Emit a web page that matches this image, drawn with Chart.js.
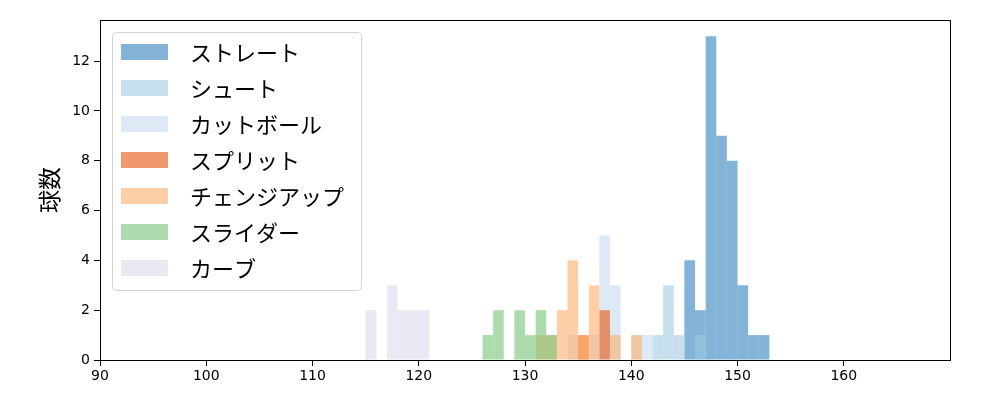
<!DOCTYPE html>
<html>
<head>
<meta charset="utf-8">
<script src="https://cdn.jsdelivr.net/npm/chart.js@4.4.1/dist/chart.umd.min.js"></script>
<style>
  body { margin: 0; background: #fff; }
  canvas { display: block; }
</style>
</head>
<body>
<canvas id="pitchChart" width="1000" height="400"></canvas>
<script>
// Pitch type names (legend order)
const pitchNames = ["ストレート", "シュート", "カットボール", "スプリット", "チェンジアップ", "スライダー", "カーブ"];

// Histogram bins (left edge, km/h) and counts per pitch type, 1 km/h wide
const straightBins = [145, 146, 147, 148, 149, 150, 151, 152];
const straightCounts = [4, 2, 13, 9, 8, 3, 1, 1];

const shootBins = [142, 143, 144, 146];
const shootCounts = [1, 3, 1, 1];

const cutBins = [134, 136, 137, 138, 140, 141];
const cutCounts = [1, 1, 5, 3, 1, 1];

const splitBins = [135, 137];
const splitCounts = [1, 2];

const changeupBins = [131, 132, 133, 134, 135, 136, 138, 140];
const changeupCounts = [1, 1, 2, 4, 1, 3, 1, 1];

const sliderBins = [126, 127, 129, 130, 131, 132];
const sliderCounts = [1, 2, 2, 1, 2, 1];

const curveBins = [115, 117, 118, 119, 120];
const curveCounts = [2, 3, 2, 2, 2];

// Axis ranges / ticks
const xMin = 90, xMax = 170;
const xTicks = [90, 100, 110, 120, 130, 140, 150, 160];
const yMax = 13.65;
const yTicks = [0, 2, 4, 6, 8, 10, 12];

const seriesBins = [straightBins, shootBins, cutBins, splitBins, changeupBins, sliderBins, curveBins];
const seriesCounts = [straightCounts, shootCounts, cutCounts, splitCounts, changeupCounts, sliderCounts, curveCounts];
const seriesColors = [
  "rgba(49,130,189,0.6)",
  "rgba(158,202,225,0.6)",
  "rgba(198,219,239,0.6)",
  "rgba(230,85,13,0.6)",
  "rgba(253,174,107,0.6)",
  "rgba(116,196,118,0.6)",
  "rgba(218,218,235,0.6)"
];

const jpFont = "'Noto Sans CJK JP', 'Noto Sans', sans-serif";
const tickFont = "'DejaVu Sans', sans-serif";

const datasets = pitchNames.map((name, i) => ({
  label: name,
  data: seriesBins[i].map((b, j) => ({ x: b + 0.5, y: seriesCounts[i][j] })),
  backgroundColor: seriesColors[i],
  borderWidth: 0,
  inflateAmount: 0,
  barPercentage: 1,
  categoryPercentage: 1,
  grouped: false,
  // first series is drawn first (underneath), like matplotlib
  order: pitchNames.length - i
}));

// full frame (all four spines)
const framePlugin = {
  id: "frame",
  afterDatasetsDraw(chart) {
    const { ctx, chartArea: a } = chart;
    ctx.save();
    ctx.strokeStyle = "#000";
    ctx.lineWidth = 1;
    ctx.strokeRect(Math.round(a.left) + 0.5, Math.round(a.top) + 0.5,
      Math.round(a.right - a.left), Math.round(a.bottom - a.top));
    ctx.restore();
  }
};

// matplotlib-like legend in the upper left of the plot
const legendPlugin = {
  id: "mplLegend",
  afterDraw(chart) {
    const { ctx } = chart;
    const x = 112.5, y = 32.5, w = 249, h = 258, r = 4;
    ctx.save();
    ctx.beginPath();
    ctx.roundRect(x, y, w, h, r);
    ctx.fillStyle = "rgba(255,255,255,0.8)";
    ctx.fill();
    ctx.strokeStyle = "rgba(204,204,204,0.9)";
    ctx.lineWidth = 1;
    ctx.stroke();

    ctx.font = "22px " + jpFont;
    ctx.textBaseline = "middle";
    ctx.textAlign = "left";
    pitchNames.forEach((name, i) => {
      const cy = 52 + i * 36;
      ctx.fillStyle = seriesColors[i];
      ctx.fillRect(121, cy - 8, 47, 16);
      ctx.fillStyle = "#000";
      ctx.fillText(name, 190, cy + 1);
    });
    ctx.restore();
  }
};

new Chart(document.getElementById("pitchChart"), {
  type: "bar",
  data: { datasets },
  options: {
    responsive: false,
    animation: false,
    layout: { padding: { top: 20, right: 50, left: 0, bottom: 0 } },
    plugins: {
      legend: { display: false },
      tooltip: { enabled: false }
    },
    scales: {
      x: {
        type: "linear",
        min: xMin,
        max: xMax,
        offset: false,
        afterBuildTicks: scale => { scale.ticks = xTicks.map(v => ({ value: v })); },
        afterFit: scale => { scale.height = 40; },
        grid: { offset: false, drawOnChartArea: false, drawTicks: true, tickLength: 6, color: "#000", tickWidth: 1 },
        border: { display: false },
        ticks: { color: "#000", font: { family: tickFont, size: 14 }, padding: 2, maxRotation: 0 }
      },
      y: {
        min: 0,
        max: yMax,
        afterBuildTicks: scale => { scale.ticks = yTicks.map(v => ({ value: v })); },
        afterFit: scale => { scale.width = 100; },
        grid: { drawOnChartArea: false, drawTicks: true, tickLength: 6, color: "#000", tickWidth: 1 },
        border: { display: false },
        ticks: { color: "#000", font: { family: tickFont, size: 14 }, padding: 4 },
        title: {
          display: true,
          text: "球数",
          color: "#000",
          font: { family: jpFont, size: 23 },
          padding: { top: 35, bottom: 0 }
        }
      }
    }
  },
  plugins: [framePlugin, legendPlugin]
});
</script>
</body>
</html>
